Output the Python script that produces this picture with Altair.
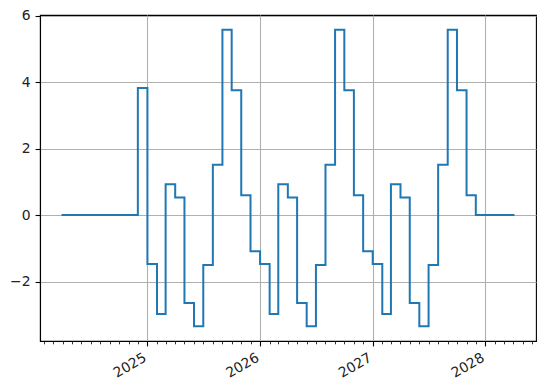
import altair as alt
import pandas as pd

# monthly dates (first of month), Apr 2024 .. Apr 2028
dates = pd.date_range("2024-04-01", "2028-04-01", freq="MS").strftime("%Y-%m-%d").tolist()

values = [
    0, 0, 0, 0, 0, 0, 0, 0, 3.82,
    -1.47, -2.97, 0.93, 0.53, -2.64, -3.34, -1.50, 1.51, 5.57, 3.75, 0.60, -1.09,
    -1.47, -2.97, 0.93, 0.53, -2.64, -3.34, -1.50, 1.51, 5.57, 3.75, 0.60, -1.09,
    -1.47, -2.97, 0.93, 0.53, -2.64, -3.34, -1.50, 1.51, 5.57, 3.75, 0.60, 0,
    0, 0, 0, 0,
]

year_ticks = ["2025-01-01", "2026-01-01", "2027-01-01", "2028-01-01"]
y_ticks = [-2, 0, 2, 4, 6]

df = pd.DataFrame({"date": dates, "value": values})


def ms(s):
    return int(pd.Timestamp(s, tz="UTC").value // 10**6)


t0, t1 = ms(dates[0]), ms(dates[-1])
pad = 0.05 * (t1 - t0)
x_domain = [t0 - pad, t1 + pad]
vmin, vmax = min(values), max(values)
vpad = 0.05 * (vmax - vmin)
y_domain = [vmin - vpad, vmax + vpad]

minor_ticks = [d for d in pd.date_range("2024-02-01", "2028-06-01", freq="MS").strftime("%Y-%m-%d").tolist()
               if not d.endswith("-01-01")]

xscale = alt.Scale(type="utc", domain=x_domain, nice=False)
yscale = alt.Scale(domain=y_domain, nice=False, zero=False)

FS = 13.9

major_axis = alt.Axis(
    orient="bottom",
    values=[ms(v) for v in year_ticks], format="%Y", formatType="utc", title=None,
    labelAngle=-30, labelAlign="right", labelBaseline="top", labelPadding=4.5, labelOffset=-6,
    tickSize=4.9, tickWidth=1.1, tickColor="black", domainColor="black", domainWidth=1.1,
    grid=True, gridColor="#b0b0b0", gridWidth=1.1,
    labelFont="DejaVu Sans", labelFontSize=FS, labelColor="#222222",
)
minor_axis = alt.Axis(
    orient="bottom",
    values=[ms(v) for v in minor_ticks], labels=False, title=None, grid=False,
    tickSize=2.8, tickWidth=0.8, tickColor="black", domain=False,
)
y_axis = alt.Axis(
    values=y_ticks, format="d", title=None, tickSize=4.9, tickWidth=1.1, tickColor="black",
    domainColor="black", domainWidth=1.1, grid=True, gridColor="#b0b0b0", gridWidth=1.1,
    labelFont="DejaVu Sans", labelFontSize=FS, labelColor="#222222", labelPadding=5,
)

line = alt.Chart(df).mark_line(color="#1f77b4", strokeWidth=2.0, interpolate="step-after", strokeCap="square").encode(
    x=alt.X("date:T", scale=xscale, axis=major_axis),
    y=alt.Y("value:Q", scale=yscale, axis=y_axis),
)
minor = alt.Chart(df).mark_line(opacity=0).encode(
    x=alt.X("date:T", scale=xscale, axis=minor_axis),
    y=alt.Y("value:Q", scale=yscale, axis=y_axis),
)

chart = alt.layer(line, minor).resolve_axis(x="independent").properties(
    width=496, height=326,
    autosize=alt.AutoSizeParams(type="none"),
    padding={"left": 40, "top": 15, "right": 10, "bottom": 49},
    background="white",
).configure_view(stroke="black", strokeWidth=1.1)

chart.save("out.html", embed_options={"renderer": "svg", "actions": False})
